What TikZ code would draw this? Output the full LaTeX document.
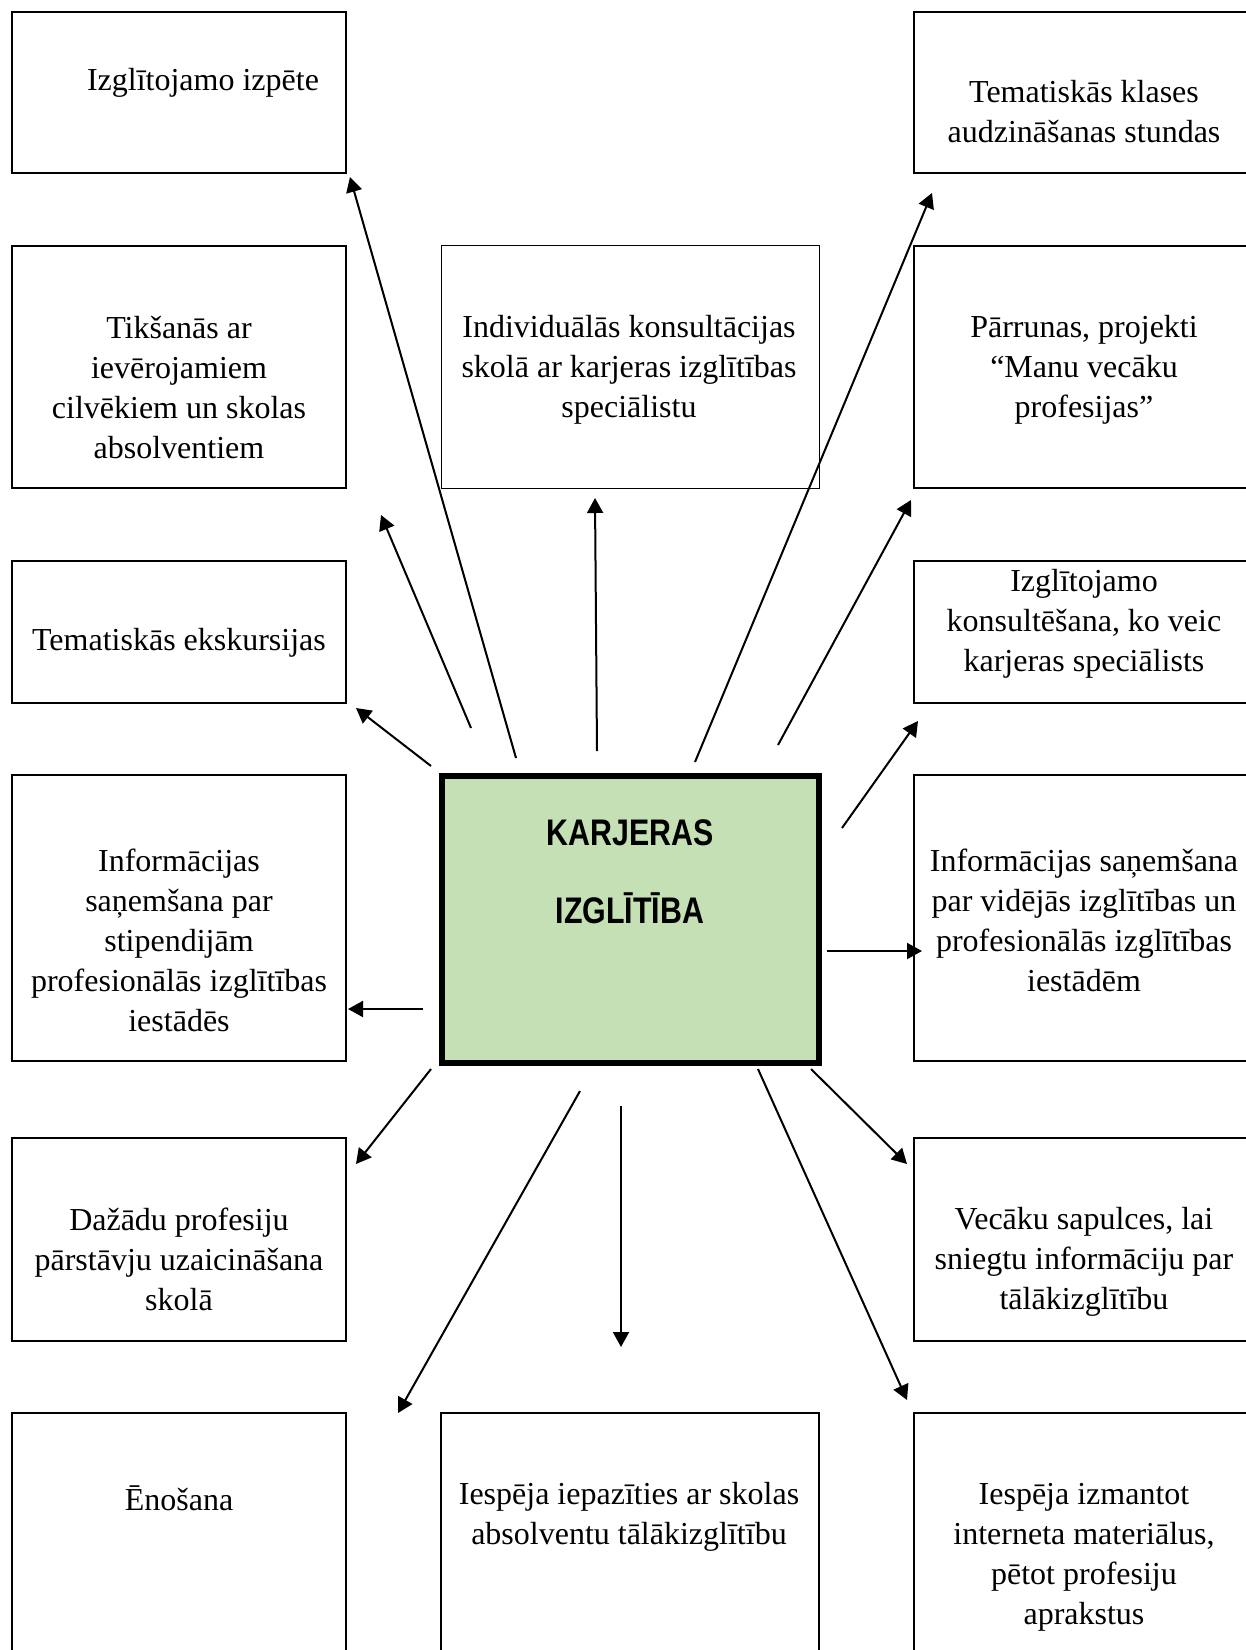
\documentclass[tikz,border=0pt]{standalone}
\usepackage{fontspec}
\setmainfont{Liberation Serif}
\newfontfamily\headfont{Liberation Sans}[FakeStretch=0.82]
\usetikzlibrary{arrows.meta}
\definecolor{centergreen}{HTML}{C5E0B4}
\newcommand\boxnode[6]{\node[#1, minimum width={(#5-#3)*0.5pt}, minimum height={(#6-#4)*0.5pt}] (#2) at ({(#3+#5)/2},{(#4+#6)/2}) {};}
\begin{document}
\begin{tikzpicture}[x=0.5pt,y=-0.5pt,
  box/.style={draw, line width=1pt, inner sep=0pt},
  thinbox/.style={draw, line width=0.5pt, inner sep=0pt},
  mainbox/.style={draw, line width=2.75pt, fill=centergreen, inner sep=0pt},
  txt/.style={align=center, font=\fontsize{16}{20}\selectfont, inner sep=0pt},
  arr/.style={line width=1pt, -{Triangle[length=7.5pt,width=8pt]}},
]
\path[use as bounding box, clip] (0,0) rectangle (1246,1650);
\fill[white] (0,0) rectangle (1246,1650);
% left column
\boxnode{box}{L1}{12}{12}{346}{173}
\boxnode{box}{L2}{12}{246}{346}{488}
\boxnode{box}{L3}{12}{561}{346}{703}
\boxnode{box}{L4}{12}{775}{346}{1061}
\boxnode{box}{L5}{12}{1138}{346}{1341}
\boxnode{box}{L6}{12}{1413}{346}{1760}
% right column
\boxnode{box}{R1}{914}{12}{1250}{173}
\boxnode{box}{R2}{914}{246}{1250}{488}
\boxnode{box}{R3}{914}{561}{1250}{703}
\boxnode{box}{R4}{914}{775}{1250}{1061}
\boxnode{box}{R5}{914}{1138}{1250}{1341}
\boxnode{box}{R6}{914}{1413}{1250}{1760}
% middle
\boxnode{thinbox}{M1}{441}{245}{819}{488}
\boxnode{mainbox}{C}{442}{776}{819}{1063}
\boxnode{box}{M3}{441}{1413}{819}{1760}
% texts
\node[txt] (L1t) at (203,83) {Izglītojamo izpēte};
\node[txt] (L2t) at (179,388) {Tikšanās ar\\ievērojamiem\\cilvēkiem un skolas\\absolventiem};
\node[txt] (L3t) at (179,643) {Tematiskās ekskursijas};
\node[txt] (L4t) at (179,940) {Informācijas\\saņemšana par\\stipendijām\\profesionālās izglītības\\iestādēs};
\node[txt] (L5t) at (179,1259) {Dažādu profesiju\\pārstāvju uzaicināšana\\skolā};
\node[txt] (L6t) at (179,1498) {Ēnošana};
\node[txt] (M1t) at (629,370) {Individuālās konsultācijas\\skolā ar karjeras izglītības\\speciālistu};
\node[txt] (M3t) at (629,1517) {Iespēja iepazīties ar skolas\\absolventu tālākizglītību};
\node[txt] (R1t) at (1084,112) {Tematiskās klases\\audzināšanas stundas};
\node[txt] (R2t) at (1084,370) {Pārrunas, projekti\\“Manu vecāku\\profesijas”};
\node[txt] (R3t) at (1084,624) {Izglītojamo\\konsultēšana, ko veic\\karjeras speciālists};
\node[txt] (R4t) at (1084,920) {Informācijas saņemšana\\par vidējās izglītības un\\profesionālās izglītības\\iestādēm};
\node[txt] (R5t) at (1084,1262) {Vecāku sapulces, lai\\sniegtu informāciju par\\tālākizglītību};
\node[txt] (R6t) at (1084,1557) {Iespēja izmantot\\interneta materiālus,\\pētot profesiju\\aprakstus};
\node[align=center, inner sep=0pt, font=\headfont\bfseries\fontsize{18.5}{39}\selectfont] (Ct) at (630,872) {KARJERAS\\IZGLĪTĪBA};
% arrow end points
\coordinate (s1) at (516,758);  \coordinate (e1) at (350,177);
\coordinate (s2) at (471,728);  \coordinate (e2) at (381,515);
\coordinate (s3) at (431,766);  \coordinate (e3) at (356,708);
\coordinate (s4) at (423,1009); \coordinate (e4) at (348,1009);
\coordinate (s5) at (431,1069); \coordinate (e5) at (356,1164);
\coordinate (s6) at (580,1091); \coordinate (e6) at (398,1413);
\coordinate (s7) at (621,1106); \coordinate (e7) at (621,1347);
\coordinate (s8) at (758,1069); \coordinate (e8) at (907,1400);
\coordinate (s9) at (811,1069); \coordinate (e9) at (907,1164);
\coordinate (s10) at (827,951); \coordinate (e10) at (922,951);
\coordinate (s11) at (842,828); \coordinate (e11) at (918,721);
\coordinate (s12) at (778,745); \coordinate (e12) at (911,500);
\coordinate (s13) at (695,762); \coordinate (e13) at (932,193);
\coordinate (s14) at (597,751); \coordinate (e14) at (595,498);
\foreach \i in {1,...,14} {\draw[arr] (s\i) -- (e\i);}
\end{tikzpicture}
\end{document}
